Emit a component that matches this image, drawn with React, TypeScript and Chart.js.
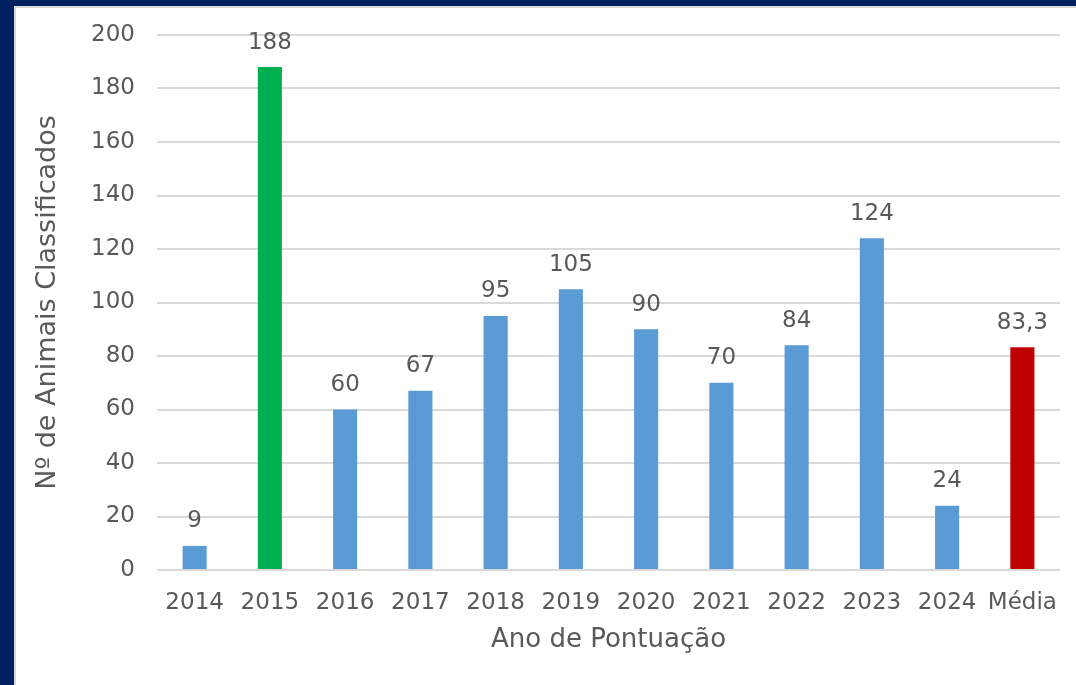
import React, { useEffect, useRef } from "react";
import { Chart, registerables } from "chart.js";

Chart.register(...registerables);

const categories = ["2014", "2015", "2016", "2017", "2018", "2019", "2020", "2021", "2022", "2023", "2024", "Média"];
const values = [9, 188, 60, 67, 95, 105, 90, 70, 84, 124, 24, 83.3];
const barColors = ["#5B9BD5", "#00B050", "#5B9BD5", "#5B9BD5", "#5B9BD5", "#5B9BD5", "#5B9BD5", "#5B9BD5", "#5B9BD5", "#5B9BD5", "#5B9BD5", "#C00000"];
const yTitle = "Nº de Animais Classificados";
const xTitle = "Ano de Pontuação";

const FONT = "'DejaVu Sans', Verdana, sans-serif";
const TEXT = "#595959";

const valueLabels = {
  id: "valueLabels",
  afterDatasetsDraw(chart: any) {
    const ctx = chart.ctx;
    const meta = chart.getDatasetMeta(0);
    ctx.save();
    ctx.font = `23px ${FONT}`;
    ctx.fillStyle = TEXT;
    ctx.textAlign = "center";
    ctx.textBaseline = "bottom";
    meta.data.forEach((bar: any, i: number) => {
      const v = values[i];
      const txt = Number.isInteger(v) ? String(v) : String(v).replace(".", ",");
      ctx.fillText(txt, bar.x, bar.y - 13);
    });
    ctx.restore();
  },
};

export default function App() {
  const ref = useRef<HTMLCanvasElement>(null);
  useEffect(() => {
    const chart = new Chart(ref.current!, {
      type: "bar",
      data: {
        labels: categories,
        datasets: [
          {
            data: values,
            backgroundColor: barColors,
            categoryPercentage: 1,
            barPercentage: 0.32,
          },
        ],
      },
      options: {
        animation: false,
        responsive: false,
        maintainAspectRatio: false,
        layout: { padding: { top: 27, right: 16, left: 0, bottom: 0 } },
        plugins: { legend: { display: false }, tooltip: { enabled: false } },
        scales: {
          x: {
            grid: { display: false, drawTicks: false },
            border: { display: false },
            ticks: { color: TEXT, font: { family: FONT, size: 23 }, padding: 19, maxRotation: 0, autoSkip: false },
            title: { display: true, text: xTitle, color: TEXT, font: { family: FONT, size: 26 }, padding: { top: 0, bottom: 29 } },
            afterFit: (s: any) => { s.height = 115; s.paddingLeft = 0; s.paddingRight = 0; },
          },
          y: {
            min: 0,
            max: 200,
            ticks: { stepSize: 20, color: TEXT, font: { family: FONT, size: 23 }, padding: 22 },
            grid: { color: "#D9D9D9", lineWidth: 2, drawTicks: false },
            border: { display: false },
            title: { display: true, text: yTitle, color: TEXT, font: { family: FONT, size: 27 }, padding: { top: 16, bottom: 0 } },
            afterFit: (s: any) => { s.width = 141; s.paddingTop = 0; s.paddingBottom = 0; },
          },
        },
      },
      plugins: [valueLabels],
    });
    return () => chart.destroy();
  }, []);

  return (
    <div style={{ position: "fixed", left: 0, top: 0, width: 1076, height: 685, background: "#002060", overflow: "hidden" }}>
      <div style={{ position: "absolute", left: 14, top: 6, right: 0, bottom: 0, background: "#FFFFFF", borderLeft: "2px solid #D9D9D9", borderTop: "2px solid #D9D9D9" }}>
        <canvas ref={ref} width={1060} height={677} style={{ display: "block", width: 1060, height: 677 }} />
      </div>
    </div>
  );
}
